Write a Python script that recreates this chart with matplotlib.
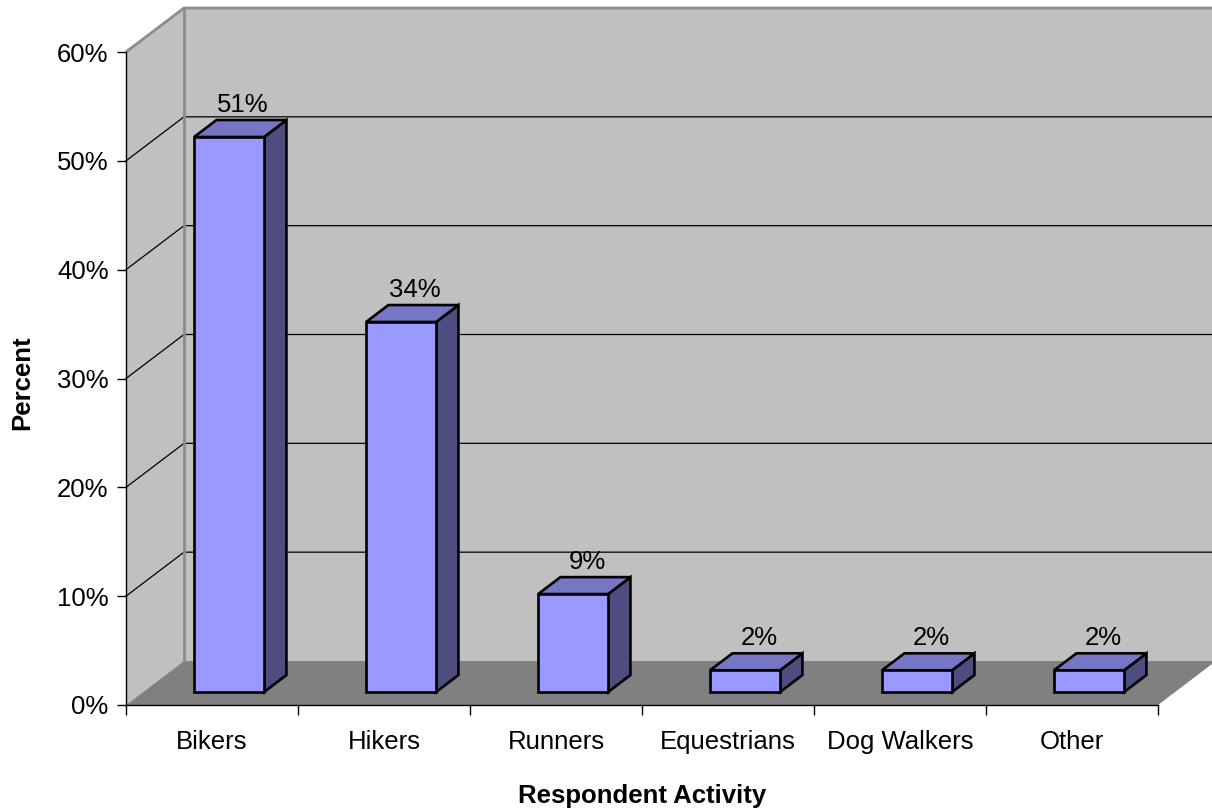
import matplotlib
matplotlib.use("Agg")
import matplotlib.pyplot as plt
from matplotlib.patches import Polygon

categories = ["Bikers", "Hikers", "Runners", "Equestrians", "Dog Walkers", "Other"]
values = [51, 34, 9, 2, 2, 2]
y_ticks = [0, 10, 20, 30, 40, 50, 60]
y_tick_labels = ["0%", "10%", "20%", "30%", "40%", "50%", "60%"]
x_title = "Respondent Activity"
y_title = "Percent"

plt.rcParams['font.family'] = ['Liberation Sans', 'DejaVu Sans']

W, H, DPI = 1212, 810, 100
fig = plt.figure(figsize=(W / DPI, H / DPI), dpi=DPI)
fig.patch.set_facecolor('white')

L, R, B, T = 126, 1158, 705, 52
ax = fig.add_axes([L / W, (H - B) / H, (R - L) / W, (B - T) / H])
ax.set_xlim(-0.5, len(categories) - 0.5)
ax.set_ylim(0, 60)
ax.patch.set_alpha(0)

# depth projection (one full depth unit = 58 px right, 44 px up)
px_x = (R - L) / len(categories)
px_y = (B - T) / 60.0
DX = 58 / px_x
DY = 44 / px_y


def P(x, y, d):
    return (x + d * DX, y + d * DY)


x0, x1 = -0.5, len(categories) - 0.5
ymax = 60
wall_c = '#C0C0C0'
floor_c = '#808080'
edge_g = '#8C8C8C'
FS = 18.5

# left wall
ax.add_patch(Polygon([P(x0, 0, 0), P(x0, ymax, 0), P(x0, ymax, 1), P(x0, 0, 1)],
                     closed=True, facecolor=wall_c, edgecolor='none', clip_on=False, zorder=0))
# back wall
ax.add_patch(Polygon([P(x0, 0, 1), P(x0, ymax, 1), P(x1, ymax, 1), P(x1, 0, 1)],
                     closed=True, facecolor=wall_c, edgecolor='none', clip_on=False, zorder=0))
# floor
ax.add_patch(Polygon([P(x0, 0, 0), P(x1, 0, 0), P(x1, 0, 1), P(x0, 0, 1)],
                     closed=True, facecolor=floor_c, edgecolor='none', clip_on=False, zorder=0.5))

# gridlines
for yv in y_ticks[1:-1]:
    a, b, c = P(x0, yv, 0), P(x0, yv, 1), P(x1, yv, 1)
    ax.plot([a[0], b[0], c[0]], [a[1], b[1], c[1]], color='black', lw=0.9,
            clip_on=False, zorder=1)

# wall outline edges (gray)
a, b, c = P(x0, ymax, 0), P(x0, ymax, 1), P(x1, ymax, 1)
ax.plot([a[0], b[0], c[0]], [a[1], b[1], c[1]], color=edge_g, lw=2.0,
        clip_on=False, zorder=1, solid_capstyle='butt')
a, b = P(x0, 0, 1), P(x0, ymax, 1)
ax.plot([a[0], b[0]], [a[1], b[1]], color=edge_g, lw=2.0, clip_on=False, zorder=1)

# bars
d0, d1 = 0.295, 0.68
w = 70 / px_x
front_c = '#9999FF'
top_c = '#7676C4'
side_c = '#4D4D80'
for i, v in enumerate(values):
    xl, xr = i - w / 2, i + w / 2
    side = [P(xr, 0, d0), P(xr, v, d0), P(xr, v, d1), P(xr, 0, d1)]
    top = [P(xl, v, d0), P(xr, v, d0), P(xr, v, d1), P(xl, v, d1)]
    front = [P(xl, 0, d0), P(xr, 0, d0), P(xr, v, d0), P(xl, v, d0)]
    for poly, col in ((side, side_c), (top, top_c), (front, front_c)):
        ax.add_patch(Polygon(poly, closed=True, facecolor=col, edgecolor='black',
                             lw=1.9, joinstyle='miter', clip_on=False, zorder=2))
    ly = P(i, v + 0.3, d1)[1]
    lx = P(i, v, (d0 + d1) / 2 + 0.05)[0]
    ax.text(lx, ly, f"{v}%", ha='center', va='bottom', fontsize=FS,
            color='black', zorder=3, clip_on=False)

# axes styling
for s in ('top', 'right'):
    ax.spines[s].set_visible(False)
ax.spines['left'].set_color('black')
ax.spines['bottom'].set_color('black')
ax.spines['left'].set_linewidth(1.0)
ax.spines['bottom'].set_linewidth(1.0)
ax.spines['left'].set_zorder(1.5)
ax.spines['bottom'].set_zorder(1.5)

ax.set_yticks(y_ticks)
ax.set_yticklabels(y_tick_labels)
ax.tick_params(axis='y', length=6.5, width=1.0, pad=6.0, labelsize=FS, color='black')

ax.set_xticks(range(len(categories)))
ax.set_xticklabels(categories)
ax.set_xticks([k - 0.5 for k in range(len(categories) + 1)], minor=True)
ax.tick_params(axis='x', which='major', length=0, pad=18, labelsize=FS)
ax.tick_params(axis='x', which='minor', length=7.5, width=1.0, color='black')

ax.set_xlabel(x_title, fontsize=FS, fontweight='bold')
ax.xaxis.set_label_coords(0.5, (B - 796) / (B - T))
ax.xaxis.label.set_va('center')
ax.set_ylabel(y_title, fontsize=FS, fontweight='bold')
ax.yaxis.set_label_coords((22 - L) / (R - L), (B - 383) / (B - T))
ax.yaxis.label.set_va('center')

fig.savefig("out.png", dpi=DPI, facecolor='white')
